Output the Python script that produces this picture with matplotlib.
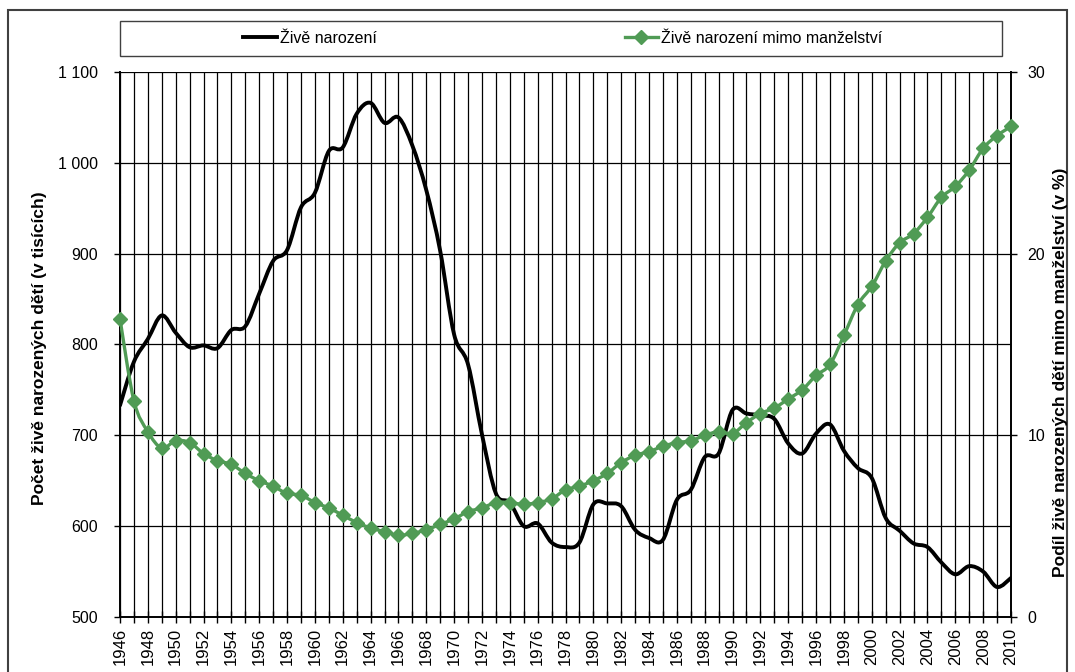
import numpy as np
import matplotlib
matplotlib.use("Agg")
import matplotlib.pyplot as plt
from matplotlib.path import Path
from matplotlib.patches import PathPatch, Rectangle
from matplotlib.lines import Line2D

plt.rcParams['font.family'] = ['Liberation Sans', 'DejaVu Sans']

# data
years = list(range(1946, 2011))
births = [733, 781, 806, 832, 813, 797, 799, 796, 816, 820, 856, 892, 904, 951, 967,
          1013, 1017, 1054, 1066, 1044, 1050, 1019, 970, 903, 811, 778, 701, 636, 626,
          600, 603, 582, 577, 582, 624, 625, 622, 596, 587, 585, 629, 640, 676, 680,
          728, 724, 722, 718, 691, 680, 702, 712, 683, 664, 653, 609, 595, 581, 577,
          560, 547, 556, 550, 533, 543]
share = [16.4, 11.9, 10.2, 9.3, 9.7, 9.6, 9.0, 8.6, 8.4, 7.9, 7.5, 7.2, 6.8, 6.7, 6.3,
         6.0, 5.6, 5.2, 4.9, 4.7, 4.5, 4.6, 4.8, 5.1, 5.4, 5.8, 6.0, 6.3, 6.3, 6.2,
         6.3, 6.5, 7.0, 7.2, 7.5, 7.9, 8.5, 8.9, 9.1, 9.4, 9.6, 9.7, 10.0, 10.2, 10.1,
         10.7, 11.2, 11.5, 12.0, 12.5, 13.3, 13.9, 15.5, 17.2, 18.2, 19.6, 20.6, 21.1,
         22.0, 23.1, 23.7, 24.6, 25.8, 26.5, 27.0]
left_ticks = [500, 600, 700, 800, 900, 1000, 1100]
left_labels = ['500', '600', '700', '800', '900', '1 000', '1 100']
right_ticks = [0, 10, 20, 30]

name_births = 'Živě narození'
name_share = 'Živě narození mimo manželství'
ylabel_left = 'Počet živě narozených dětí (v tisících)'
ylabel_right = 'Podíl živě narozených dětí mimo manželství (v %)'

GREEN = '#509b55'
FS = 11.5


def smooth_path(x, y):
    # excel-like smoothed line: cubic bezier through every point
    n = len(x)
    verts = [(x[0], y[0])]
    codes = [Path.MOVETO]
    for i in range(n - 1):
        a = max(i - 1, 0)
        b = min(i + 2, n - 1)
        c1 = (x[i] + (x[i + 1] - x[a]) / 6, y[i] + (y[i + 1] - y[a]) / 6)
        c2 = (x[i + 1] - (x[b] - x[i]) / 6, y[i + 1] - (y[b] - y[i]) / 6)
        verts += [c1, c2, (x[i + 1], y[i + 1])]
        codes += [Path.CURVE4] * 3
    return Path(verts, codes)


fig = plt.figure(figsize=(10.75, 6.72), dpi=100)
ax = fig.add_axes([120 / 1075, 1 - 617 / 672, 891 / 1075, 545 / 672])
ax2 = ax.twinx()

ax.set_xlim(years[0], years[-1])
ax.set_ylim(500, 1100)
ax2.set_ylim(0, 30)

ax.set_xticks(years)
ax.set_xticklabels([str(y) if (y - 1946) % 2 == 0 else '' for y in years],
                   rotation=90, fontsize=12)
ax.set_yticks(left_ticks)
ax.set_yticklabels(left_labels, fontsize=FS)
ax2.set_yticks(right_ticks)
ax2.set_yticklabels([str(t) for t in right_ticks], fontsize=FS)

ax.grid(True, color='black', linewidth=0.9)
ax.set_axisbelow(True)
ax.tick_params(axis='x', direction='inout', length=8, width=1, pad=4)
ax.tick_params(axis='y', direction='out', length=4, width=1, pad=12)
ax2.tick_params(axis='y', direction='out', length=4, width=1, pad=8)

for s in ['top', 'right']:
    ax.spines[s].set_visible(False)
for s in ['top', 'left', 'bottom']:
    ax2.spines[s].set_visible(False)
ax.spines['left'].set_linewidth(1.4)
ax.spines['bottom'].set_linewidth(1.4)
ax2.spines['right'].set_linewidth(1.4)

ax.add_patch(PathPatch(smooth_path(years, births), fill=False, edgecolor='black',
                       linewidth=2.8, capstyle='round', joinstyle='round', zorder=3))
ax2.add_patch(PathPatch(smooth_path(years, share), fill=False, edgecolor=GREEN,
                        linewidth=2.4, zorder=3))
ax2.plot(years, share, linestyle='none', marker='D', markersize=7.5,
         color=GREEN, zorder=4, clip_on=False)

# axis titles
fig.text(40 / 1075, 1 - 348 / 672, ylabel_left, rotation=90, ha='center', va='center',
         fontsize=12.5, fontweight='bold')
fig.text(1060 / 1075, 1 - 372 / 672, ylabel_right, rotation=90, ha='center', va='center',
         fontsize=12.5, fontweight='bold')

# legend box and outer frame
fig.patches.append(Rectangle((120 / 1075, 1 - 56 / 672), 882 / 1075, 35 / 672,
                             transform=fig.transFigure, fill=False,
                             edgecolor='#404040', linewidth=1))
fig.patches.append(Rectangle((8 / 1075, -0.02), 1059 / 1075, 1.02 - 10 / 672,
                             transform=fig.transFigure, fill=False,
                             edgecolor='#404040', linewidth=1.5))
handles = [Line2D([], [], color='black', linewidth=2.8),
           Line2D([], [], color=GREEN, linewidth=2.4, marker='D', markersize=7.5)]
fig.legend(handles, [name_births, name_share], loc='center',
           bbox_to_anchor=(563 / 1075, 1 - 38.5 / 672), ncol=2, frameon=False,
           fontsize=FS, handlelength=2.1, handletextpad=0.2, columnspacing=15.5)

fig.savefig('out.png', dpi=100)
